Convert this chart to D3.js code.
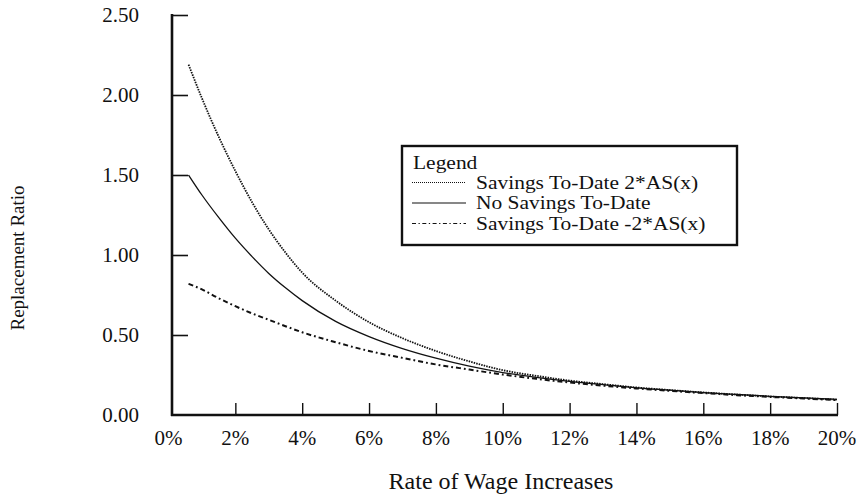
<!DOCTYPE html>
<html>
<head>
<meta charset="utf-8">
<script src="https://cdn.jsdelivr.net/npm/d3@7"></script>
<style>
  html, body { margin: 0; padding: 0; background: #fff; }
  svg { display: block; }
  text { font-family: "Liberation Serif", "Times New Roman", serif; fill: #111; }
</style>
</head>
<body>
<svg id="chart" width="860" height="496"></svg>
<script>
// Rate of wage increases (%), shared by all three series
const rates = [0.6, 1, 1.5, 2, 2.5, 3, 3.5, 4, 5, 6, 7, 8, 9, 10, 11, 12, 13, 14, 15, 16, 17, 18, 19, 20];

// Replacement ratio, savings to-date 2*AS(x)
const savingsPlus = [2.19, 1.98, 1.74, 1.525, 1.33, 1.16, 1.015, 0.89, 0.715, 0.58, 0.48, 0.40, 0.335, 0.28,
                     0.245, 0.215, 0.193, 0.172, 0.156, 0.141, 0.128, 0.116, 0.106, 0.096];
// Replacement ratio, no savings to-date
const noSavings = [1.50, 1.375, 1.235, 1.105, 0.99, 0.885, 0.795, 0.715, 0.585, 0.49, 0.415, 0.355, 0.305, 0.265,
                   0.235, 0.21, 0.19, 0.17, 0.155, 0.14, 0.128, 0.117, 0.107, 0.098];
// Replacement ratio, savings to-date -2*AS(x)
const savingsMinus = [0.82, 0.785, 0.73, 0.68, 0.635, 0.595, 0.555, 0.517, 0.455, 0.40, 0.357, 0.316, 0.284, 0.253,
                      0.226, 0.203, 0.183, 0.166, 0.151, 0.137, 0.124, 0.113, 0.103, 0.093];

const seriesNames = ["Savings To-Date 2*AS(x)", "No Savings To-Date", "Savings To-Date -2*AS(x)"];
const xTicks = [0, 2, 4, 6, 8, 10, 12, 14, 16, 18, 20];
const yTicks = [0, 0.5, 1, 1.5, 2, 2.5];

const svg = d3.select("#chart");
const plotLeft = 172, plotRight = 837, plotTop = 15, plotBottom = 415;

const x = d3.scaleLinear().domain([0, 20]).range([168.5, plotRight]);
const y = d3.scaleLinear().domain([0, 2.5]).range([plotBottom, plotTop]);

const styles = [
  { dash: "1.5,1.1", width: 1.8, legendDash: "1,1" },
  { dash: null, width: 1.3, legendDash: null },
  { dash: "5,3,1.8,3", width: 2, legendDash: "4,2.5,1.3,2.5" }
];

// Y axis: thick spine with inward ticks
const yAxis = svg.append("g").attr("transform", `translate(${plotLeft},0)`)
  .call(d3.axisRight(y).tickValues(yTicks.filter(d => d > 0)).tickSize(16).tickFormat(""));
yAxis.select(".domain").remove();
yAxis.selectAll(".tick line").attr("stroke", "#111").attr("stroke-width", 1.6);
svg.append("line").attr("x1", plotLeft).attr("x2", plotLeft).attr("y1", plotTop - 1).attr("y2", plotBottom + 1)
  .attr("stroke", "#111").attr("stroke-width", 2.6);

svg.append("g").selectAll("text").data(yTicks).join("text")
  .attr("x", 139).attr("y", d => y(d)).attr("dy", "0.35em")
  .attr("text-anchor", "end").attr("font-size", 21)
  .text(d => d3.format(".2f")(d));

// X axis: thick baseline with inward ticks
const xAxis = svg.append("g").attr("transform", `translate(0,${plotBottom})`)
  .call(d3.axisTop(x).tickValues(xTicks.filter(d => d > 0)).tickSize(12).tickFormat(""));
xAxis.select(".domain").remove();
xAxis.selectAll(".tick line").attr("stroke", "#111").attr("stroke-width", 1.4);
svg.append("line").attr("x1", plotLeft - 1).attr("x2", plotRight + 1).attr("y1", plotBottom).attr("y2", plotBottom)
  .attr("stroke", "#111").attr("stroke-width", 2.6);

svg.append("g").selectAll("text").data(xTicks).join("text")
  .attr("x", d => x(d)).attr("y", 445)
  .attr("text-anchor", "middle").attr("font-size", 21)
  .text(d => d + "%");

// Axis titles
svg.append("text").attr("x", 501).attr("y", 489).attr("text-anchor", "middle")
  .attr("font-size", 24).text("Rate of Wage Increases");
svg.append("text").attr("transform", "translate(24,258) rotate(-90)").attr("text-anchor", "middle")
  .attr("font-size", 19).text("Replacement Ratio");

// Curves
const line = d3.line().x(d => x(d[0])).y(d => y(d[1])).curve(d3.curveMonotoneX);
[savingsPlus, noSavings, savingsMinus].forEach((vals, i) => {
  svg.append("path")
    .datum(rates.map((r, j) => [r, vals[j]]))
    .attr("d", line)
    .attr("fill", "none")
    .attr("stroke", "#111")
    .attr("stroke-width", styles[i].width)
    .attr("stroke-dasharray", styles[i].dash);
});

// Legend: slightly widened serif text in a boxed key
const lg = svg.append("g");
lg.append("rect").attr("x", 402).attr("y", 146).attr("width", 335).attr("height", 99)
  .attr("fill", "#fff").attr("stroke", "#111").attr("stroke-width", 2.4);
const widen = sel => sel.each(function () {
  const w = this.getComputedTextLength();
  d3.select(this).attr("textLength", w * 1.16).attr("lengthAdjust", "spacingAndGlyphs");
});
lg.append("text").attr("x", 413).attr("y", 163).attr("dy", "0.33em").attr("font-size", 18.5)
  .text("Legend").call(widen);
seriesNames.forEach((name, i) => {
  const yy = 182.5 + i * 20.5;
  lg.append("line").attr("x1", 412).attr("x2", 466).attr("y1", yy).attr("y2", yy)
    .attr("stroke", "#111").attr("stroke-width", 1.1)
    .attr("stroke-dasharray", styles[i].legendDash);
  lg.append("text").attr("x", 476).attr("y", yy).attr("dy", "0.33em").attr("font-size", 18.5)
    .text(name).call(widen);
});
</script>
</body>
</html>
